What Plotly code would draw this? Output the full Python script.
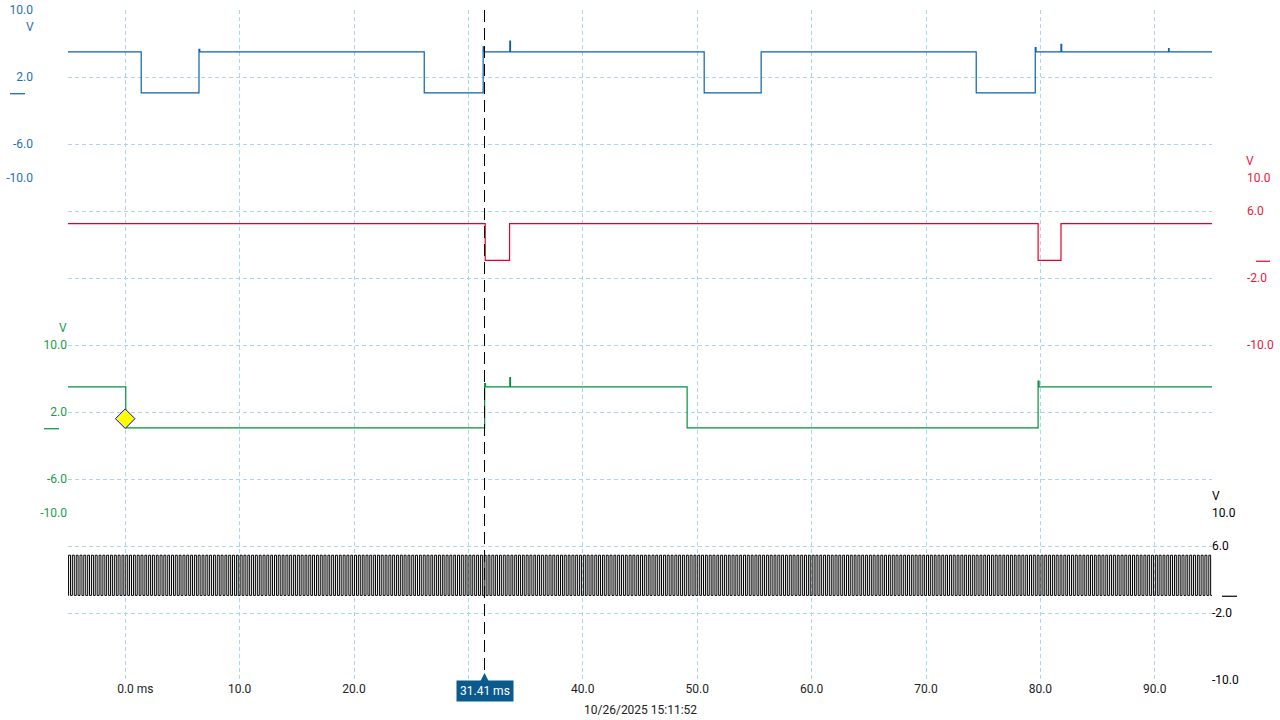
import plotly.graph_objects as go

# ---- data (time in ms, level in V) ----
ch1_t = [-5.0, 1.40, 6.45, 6.52, 26.14, 31.29, 31.38, 33.62, 33.68, 50.61, 55.59, 74.39, 79.55, 79.62, 81.80, 81.86, 91.20, 91.25, 95.0]
ch1_v = [5.0, 0.1, 5.3, 5.0, 0.1, 5.6, 5.0, 6.3, 5.0, 0.1, 5.0, 0.1, 5.5, 5.0, 5.9, 5.0, 5.4, 5.0, 5.0]

ch2_t = [-5.0, 31.47, 33.60, 79.80, 81.80, 95.0]
ch2_v = [4.5, 0.1, 4.5, 0.1, 4.5, 4.5]

ch3_t = [-5.0, 0.05, 31.42, 31.50, 33.62, 33.68, 49.12, 79.80, 79.88, 95.0]
ch3_v = [5.0, 0.1, 5.4, 5.0, 6.1, 5.0, 0.1, 5.7, 5.0, 5.0]

# ch4 clock: toggle times (rise, fall, rise, fall ...)
ch4_edges = [
  -4.95, -4.78, -4.62, -4.45, -4.28, -4.12, -3.95, -3.78, -3.62, -3.45, -3.28, -3.12,
  -2.95, -2.78, -2.62, -2.45, -2.28, -2.12, -1.95, -1.78, -1.62, -1.45, -1.28, -1.12,
  -0.95, -0.78, -0.62, -0.45, -0.28, -0.12, 0.05, 0.22, 0.38, 0.55, 0.72, 0.88,
  1.05, 1.22, 1.38, 1.55, 1.72, 1.88, 2.05, 2.22, 2.38, 2.55, 2.72, 2.88,
  3.05, 3.22, 3.38, 3.55, 3.72, 3.88, 4.05, 4.22, 4.38, 4.55, 4.72, 4.88,
  5.05, 5.22, 5.38, 5.55, 5.72, 5.88, 6.05, 6.22, 6.38, 6.55, 6.72, 6.88,
  7.05, 7.22, 7.38, 7.55, 7.72, 7.88, 8.05, 8.22, 8.38, 8.55, 8.72, 8.88,
  9.05, 9.22, 9.38, 9.55, 9.72, 9.88, 10.05, 10.22, 10.38, 10.55, 10.72, 10.88,
  11.05, 11.22, 11.38, 11.55, 11.72, 11.88, 12.05, 12.22, 12.38, 12.55, 12.72, 12.88,
  13.05, 13.22, 13.38, 13.55, 13.72, 13.88, 14.05, 14.22, 14.38, 14.55, 14.72, 14.88,
  15.05, 15.22, 15.38, 15.55, 15.72, 15.88, 16.05, 16.22, 16.38, 16.55, 16.72, 16.88,
  17.05, 17.22, 17.38, 17.55, 17.72, 17.88, 18.05, 18.22, 18.38, 18.55, 18.72, 18.88,
  19.05, 19.22, 19.38, 19.55, 19.72, 19.88, 20.05, 20.22, 20.38, 20.55, 20.72, 20.88,
  21.05, 21.22, 21.38, 21.55, 21.72, 21.88, 22.05, 22.22, 22.38, 22.55, 22.72, 22.88,
  23.05, 23.22, 23.38, 23.55, 23.72, 23.88, 24.05, 24.22, 24.38, 24.55, 24.72, 24.88,
  25.05, 25.22, 25.38, 25.55, 25.72, 25.88, 26.05, 26.22, 26.38, 26.55, 26.72, 26.88,
  27.05, 27.22, 27.38, 27.55, 27.72, 27.88, 28.05, 28.22, 28.38, 28.55, 28.72, 28.88,
  29.05, 29.22, 29.38, 29.55, 29.72, 29.88, 30.05, 30.22, 30.38, 30.55, 30.72, 30.88,
  31.05, 31.22, 31.38, 31.55, 31.72, 31.88, 32.05, 32.22, 32.38, 32.55, 32.72, 32.88,
  33.05, 33.22, 33.38, 33.55, 33.72, 33.88, 34.05, 34.22, 34.38, 34.55, 34.72, 34.88,
  35.05, 35.22, 35.38, 35.55, 35.72, 35.88, 36.05, 36.22, 36.38, 36.55, 36.72, 36.88,
  37.05, 37.22, 37.38, 37.55, 37.72, 37.88, 38.05, 38.22, 38.38, 38.55, 38.72, 38.88,
  39.05, 39.22, 39.38, 39.55, 39.72, 39.88, 40.05, 40.22, 40.38, 40.55, 40.72, 40.88,
  41.05, 41.22, 41.38, 41.55, 41.72, 41.88, 42.05, 42.22, 42.38, 42.55, 42.72, 42.88,
  43.05, 43.22, 43.38, 43.55, 43.72, 43.88, 44.05, 44.22, 44.38, 44.55, 44.72, 44.88,
  45.05, 45.22, 45.38, 45.55, 45.72, 45.88, 46.05, 46.22, 46.38, 46.55, 46.72, 46.88,
  47.05, 47.22, 47.38, 47.55, 47.72, 47.88, 48.05, 48.22, 48.38, 48.55, 48.72, 48.88,
  49.05, 49.22, 49.38, 49.55, 49.72, 49.88, 50.05, 50.22, 50.38, 50.55, 50.72, 50.88,
  51.05, 51.22, 51.38, 51.55, 51.72, 51.88, 52.05, 52.22, 52.38, 52.55, 52.72, 52.88,
  53.05, 53.22, 53.38, 53.55, 53.72, 53.88, 54.05, 54.22, 54.38, 54.55, 54.72, 54.88,
  55.05, 55.22, 55.38, 55.55, 55.72, 55.88, 56.05, 56.22, 56.38, 56.55, 56.72, 56.88,
  57.05, 57.22, 57.38, 57.55, 57.72, 57.88, 58.05, 58.22, 58.38, 58.55, 58.72, 58.88,
  59.05, 59.22, 59.38, 59.55, 59.72, 59.88, 60.05, 60.22, 60.38, 60.55, 60.72, 60.88,
  61.05, 61.22, 61.38, 61.55, 61.72, 61.88, 62.05, 62.22, 62.38, 62.55, 62.72, 62.88,
  63.05, 63.22, 63.38, 63.55, 63.72, 63.88, 64.05, 64.22, 64.38, 64.55, 64.72, 64.88,
  65.05, 65.22, 65.38, 65.55, 65.72, 65.88, 66.05, 66.22, 66.38, 66.55, 66.72, 66.88,
  67.05, 67.22, 67.38, 67.55, 67.72, 67.88, 68.05, 68.22, 68.38, 68.55, 68.72, 68.88,
  69.05, 69.22, 69.38, 69.55, 69.72, 69.88, 70.05, 70.22, 70.38, 70.55, 70.72, 70.88,
  71.05, 71.22, 71.38, 71.55, 71.72, 71.88, 72.05, 72.22, 72.38, 72.55, 72.72, 72.88,
  73.05, 73.22, 73.38, 73.55, 73.72, 73.88, 74.05, 74.22, 74.38, 74.55, 74.72, 74.88,
  75.05, 75.22, 75.38, 75.55, 75.72, 75.88, 76.05, 76.22, 76.38, 76.55, 76.72, 76.88,
  77.05, 77.22, 77.38, 77.55, 77.72, 77.88, 78.05, 78.22, 78.38, 78.55, 78.72, 78.88,
  79.05, 79.22, 79.38, 79.55, 79.72, 79.88, 80.05, 80.22, 80.38, 80.55, 80.72, 80.88,
  81.05, 81.22, 81.38, 81.55, 81.72, 81.88, 82.05, 82.22, 82.38, 82.55, 82.72, 82.88,
  83.05, 83.22, 83.38, 83.55, 83.72, 83.88, 84.05, 84.22, 84.38, 84.55, 84.72, 84.88,
  85.05, 85.22, 85.38, 85.55, 85.72, 85.88, 86.05, 86.22, 86.38, 86.55, 86.72, 86.88,
  87.05, 87.22, 87.38, 87.55, 87.72, 87.88, 88.05, 88.22, 88.38, 88.55, 88.72, 88.88,
  89.05, 89.22, 89.38, 89.55, 89.72, 89.88, 90.05, 90.22, 90.38, 90.55, 90.72, 90.88,
  91.05, 91.22, 91.38, 91.55, 91.72, 91.88, 92.05, 92.22, 92.38, 92.55, 92.72, 92.88,
  93.05, 93.22, 93.38, 93.55, 93.72, 93.88, 94.05, 94.22, 94.38, 94.55, 94.72, 94.88,
]
ch4_hi = 4.9
ch4_lo = 0.1

trig_t, trig_v = 0.0, 1.2
cursor_t = 31.41

x_ticks = [0, 10, 20, 30, 40, 50, 60, 70, 80, 90]
x_text = ["\u2007\u2007\u20070.0 ms", "10.0", "20.0", "", "40.0", "50.0", "60.0", "70.0", "80.0", "90.0"]
ch1_ticks, ch1_text = [10, 2, -6, -10], ["10.0", "2.0", "-6.0", "-10.0"]
ch2_ticks, ch2_text = [10, 6, -2, -10], ["10.0", "6.0", "-2.0", "-10.0"]
ch3_ticks, ch3_text = [10, 2, -6, -10], ["10.0", "2.0", "-6.0", "-10.0"]
ch4_ticks, ch4_text = [10, 6, -2, -10], ["10.0", "6.0", "-2.0", "-10.0"]
timestamp = "10/26/2025 15:11:52"

# ---- styling ----
W, H = 1280, 720
BLUE, BLUE_T = "#0a62a8", "#2370b3"
RED, RED_T = "#e4002b", "#e8193c"
GREEN, GREEN_T = "#00913c", "#1a9a4c"
BLACK = "#000000"
GRID = "#a8dae6"
BOX = "#0b5a8e"
FONT = "Roboto"

# page pixel -> paper fraction
def px_x( p ) : return p / W
def px_y( p ) : return 1 - p / H

ch4_x = [ -5.0 ] + ch4_edges + [ 95.0 ]
ch4_y = [ ch4_lo ] + [ ch4_hi if i % 2 == 0 else ch4_lo for i in range( len( ch4_edges ) ) ]
ch4_y = ch4_y + [ ch4_y[ -1 ] ]

def add_chan( fig ,x ,y ,axis ,color ,width=1.2 ) :
  fig.add_trace( go.Scatter( x=x ,y=y ,yaxis=axis ,mode="lines" ,showlegend=False ,hoverinfo="skip"
                            ,line=dict( color=color ,width=width ,shape="hv" ) ) )

fig = go.Figure()
fig.add_trace( go.Scatter( x=[ None ] ,y=[ None ] ,showlegend=False ,hoverinfo="skip" ) )  # carries the grid axis
add_chan( fig ,ch1_t ,ch1_v ,"y2" ,BLUE )
add_chan( fig ,ch2_t ,ch2_v ,"y3" ,RED )
add_chan( fig ,ch3_t ,ch3_v ,"y4" ,GREEN )
add_chan( fig ,ch4_x ,ch4_y ,"y5" ,BLACK ,1.0 )
fig.add_trace( go.Scatter( x=[ trig_t ] ,y=[ trig_v ] ,yaxis="y4" ,mode="markers" ,showlegend=False ,hoverinfo="skip"
                          ,marker=dict( symbol="diamond" ,size=15 ,color="#ffff00" ,line=dict( color="#0000ff" ,width=1 ) ) ) )

def chan_axis( rng ,vals ,text ,color ,side ,pos ) :
  return dict( range=rng ,tickvals=vals ,ticktext=text ,overlaying="y" ,anchor="free" ,side=side ,position=pos
              ,showgrid=False ,zeroline=False ,showline=False ,ticks="" ,automargin=False
              ,tickfont=dict( color=color ,size=12 ,family=FONT ) )

fig.update_layout(
  width=W ,height=H ,margin=dict( l=0 ,r=0 ,t=0 ,b=0 ) ,autosize=False
  ,paper_bgcolor="white" ,plot_bgcolor="white" ,font=dict( family=FONT ,size=12 ,color="#222" )
  ,xaxis=dict( domain=[ px_x( 68 ) ,px_x( 1212 ) ] ,range=[ -5 ,95 ] ,tickvals=x_ticks ,ticktext=x_text
              ,showgrid=True ,gridcolor=GRID ,griddash="4px,3px" ,gridwidth=1 ,zeroline=False ,showline=False
              ,ticks="" ,automargin=False ,tickfont=dict( size=12 ,color="#222" ) )
  ,yaxis=dict( domain=[ px_y( 680 ) ,px_y( 10 ) ] ,range=[ -70 ,10 ] ,tick0=10 ,dtick=8 ,showticklabels=False
              ,showgrid=True ,gridcolor=GRID ,griddash="4px,3px" ,gridwidth=1 ,zeroline=False ,showline=False
              ,ticks="" ,automargin=False )
  ,yaxis2=chan_axis( [ -70 ,10 ] ,ch1_ticks ,ch1_text ,BLUE_T ,"left" ,px_x( 33 ) )
  ,yaxis3=chan_axis( [ -50 ,30 ] ,ch2_ticks ,ch2_text ,RED_T ,"right" ,px_x( 1246 ) )
  ,yaxis4=chan_axis( [ -30 ,50 ] ,ch3_ticks ,ch3_text ,GREEN_T ,"left" ,px_x( 67 ) )
  ,yaxis5=chan_axis( [ -10 ,70 ] ,ch4_ticks ,ch4_text ,BLACK ,"right" ,px_x( 1211 ) )
)

# unit labels and ground markers per channel
units = [ ( "y2" ,8 ,30 ,BLUE_T ) ,( "y3" ,12 ,1250 ,RED_T ) ,( "y4" ,12 ,63 ,GREEN_T ) ,( "y5" ,12 ,1216 ,BLACK ) ]
for ax ,v ,xp ,col in units :
  fig.add_annotation( x=px_x( xp ) ,xref="paper" ,y=v ,yref=ax ,text="V" ,showarrow=False
                     ,font=dict( color=col ,size=12 ) ,xanchor="center" ,yanchor="middle" )
gnd = [ ( "y2" ,10 ,25 ,BLUE ) ,( "y3" ,1256 ,1270 ,RED ) ,( "y4" ,44 ,59 ,GREEN ) ,( "y5" ,1222 ,1237 ,BLACK ) ]
for ax ,a ,b ,col in gnd :
  fig.add_shape( type="line" ,xref="paper" ,yref=ax ,x0=px_x( a ) ,x1=px_x( b ) ,y0=0 ,y1=0
                ,line=dict( color=col ,width=1.2 ) )

# cursor
fig.add_shape( type="line" ,xref="x" ,yref="paper" ,x0=cursor_t ,x1=cursor_t ,y0=px_y( 10 ) ,y1=px_y( 672 )
              ,line=dict( color="black" ,width=1 ,dash="12px,6px" ) )
fig.add_shape( type="path" ,xref="x" ,yref="paper" ,fillcolor=BOX ,line=dict( width=0 )
              ,path=f"M {cursor_t-0.4},{px_y( 682 )} L {cursor_t+0.4},{px_y( 682 )} L {cursor_t},{px_y( 673 )} Z" )
fig.add_annotation( x=cursor_t ,xref="x" ,y=px_y( 690.5 ) ,yref="paper" ,text=f"{cursor_t:.2f} ms" ,showarrow=False
                   ,bgcolor=BOX ,borderpad=3 ,font=dict( color="white" ,size=12 ) ,xanchor="center" ,yanchor="middle" )
fig.add_annotation( x=0.5 ,xref="paper" ,y=px_y( 710 ) ,yref="paper" ,text=timestamp ,showarrow=False
                   ,font=dict( color="#222" ,size=12 ) ,xanchor="center" ,yanchor="middle" )

fig.write_html( "out.html" ,config=dict( displayModeBar=False )
               ,post_script="document.body.style.margin='0px';document.body.style.overflow='hidden';" )
